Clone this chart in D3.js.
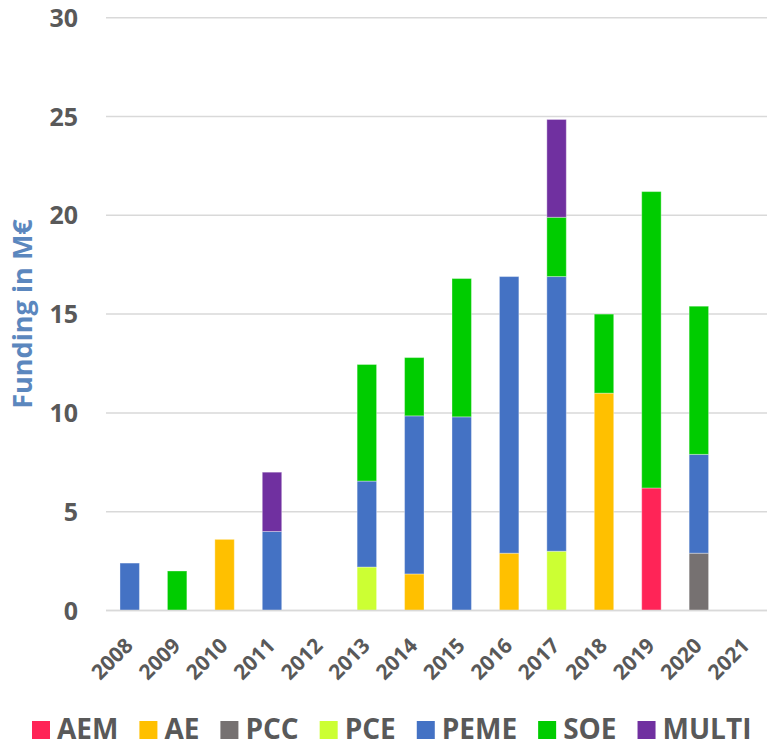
<!DOCTYPE html>
<html>
<head>
<meta charset="utf-8">
<script src="https://cdn.jsdelivr.net/npm/d3@7"></script>
<style>
  html, body { margin: 0; padding: 0; background: #fff; }
  svg { display: block; font-family: "Open Sans", sans-serif; }
</style>
</head>
<body>
<svg id="chart" width="767" height="747"></svg>
<script>
// ---- data ----
const years = ["2008","2009","2010","2011","2012","2013","2014","2015","2016","2017","2018","2019","2020","2021"];
const seriesNames = ["AEM","AE","PCC","PCE","PEME","SOE","MULTI"];
const AEM   = [0,   0,   0,   0,   0, 0,    0,    0,   0,    0,    0,    6.2,  0,   0];
const AE    = [0,   0,   3.6, 0,   0, 0,    1.85, 0,   2.9,  0,    11.0, 0,    0,   0];
const PCC   = [0,   0,   0,   0,   0, 0,    0,    0,   0,    0,    0,    0,    2.9, 0];
const PCE   = [0,   0,   0,   0,   0, 2.2,  0,    0,   0,    3.0,  0,    0,    0,   0];
const PEME  = [2.4, 0,   0,   4.0, 0, 4.35, 8.0,  9.8, 14.0, 13.9, 0,    0,    5.0, 0];
const SOE   = [0,   2.0, 0,   0,   0, 5.9,  2.95, 7.0, 0,    3.0,  4.0,  15.0, 7.5, 0];
const MULTI = [0,   0,   0,   3.0, 0, 0,    0,    0,   0,    4.95, 0,    0,    0,   0];
const yTicks = [0, 5, 10, 15, 20, 25, 30];
const colors = ["#FF2457", "#FFC000", "#767171", "#CCFF33", "#4472C4", "#00CC00", "#7030A0"];
const yTitle = "Funding in M€";

// ---- build table ----
const seriesValues = [AEM, AE, PCC, PCE, PEME, SOE, MULTI];
const table = years.map((yr, i) => {
  const row = { year: yr };
  seriesNames.forEach((s, k) => row[s] = seriesValues[k][i]);
  return row;
});

const svg = d3.select("#chart");
const x = d3.scaleBand().domain(years).range([106, 770]).paddingInner(0.59).paddingOuter(0.295);
const y = d3.scaleLinear().domain([0, 30]).range([610.5, 17.7]);
const color = d3.scaleOrdinal().domain(seriesNames).range(colors);

// gridlines
svg.append("g").selectAll("line").data(yTicks).join("line")
  .attr("x1", 106).attr("x2", 767)
  .attr("y1", d => y(d)).attr("y2", d => y(d))
  .attr("stroke", "#D9D9D9").attr("stroke-width", 1.5);

// y tick labels
svg.append("g").selectAll("text").data(yTicks).join("text")
  .attr("x", 78).attr("y", d => y(d)).attr("dy", "0.36em")
  .attr("text-anchor", "end")
  .attr("font-size", 25).attr("font-weight", 700).attr("fill", "#595959")
  .text(d => d);

// stacked bars
const stack = d3.stack().keys(seriesNames)(table);
svg.append("g").selectAll("g").data(stack).join("g")
  .attr("fill", d => color(d.key))
  .selectAll("rect").data(d => d.filter(p => p[1] - p[0] > 0)).join("rect")
  .attr("x", d => x(d.data.year))
  .attr("width", x.bandwidth())
  .attr("y", d => y(d[1]))
  .attr("height", d => y(d[0]) - y(d[1]))
  .attr("stroke", "rgba(255,255,255,0.35)").attr("stroke-width", 1);

// baseline
svg.append("line").attr("x1", 106).attr("x2", 767)
  .attr("y1", y(0)).attr("y2", y(0))
  .attr("stroke", "#D9D9D9").attr("stroke-width", 1.5);

// x labels
svg.append("g").selectAll("text").data(years).join("text")
  .attr("transform", d => `translate(${x(d) + x.bandwidth() / 2 + 4.5},647) rotate(-45)`)
  .attr("text-anchor", "end")
  .attr("font-size", 21).attr("font-weight", 700).attr("fill", "#595959")
  .text(d => d);

// y title
svg.append("text")
  .attr("transform", "translate(32,314) rotate(-90)")
  .attr("text-anchor", "middle")
  .attr("font-size", 27).attr("font-weight", 700).attr("fill", "#5B87BE")
  .text(yTitle);

// legend
const leg = svg.append("g");
let lx = 32;
seriesNames.forEach((s, k) => {
  const g = leg.append("g");
  g.append("rect").attr("x", lx).attr("y", 721).attr("width", 18).attr("height", 18).attr("fill", colors[k]);
  const t = g.append("text").attr("x", lx + 25).attr("y", 739)
    .attr("font-size", 28).attr("font-weight", 700).attr("fill", "#595959").text(s);
  lx += 25 + t.node().getComputedTextLength() + 21;
});
</script>
</body>
</html>
